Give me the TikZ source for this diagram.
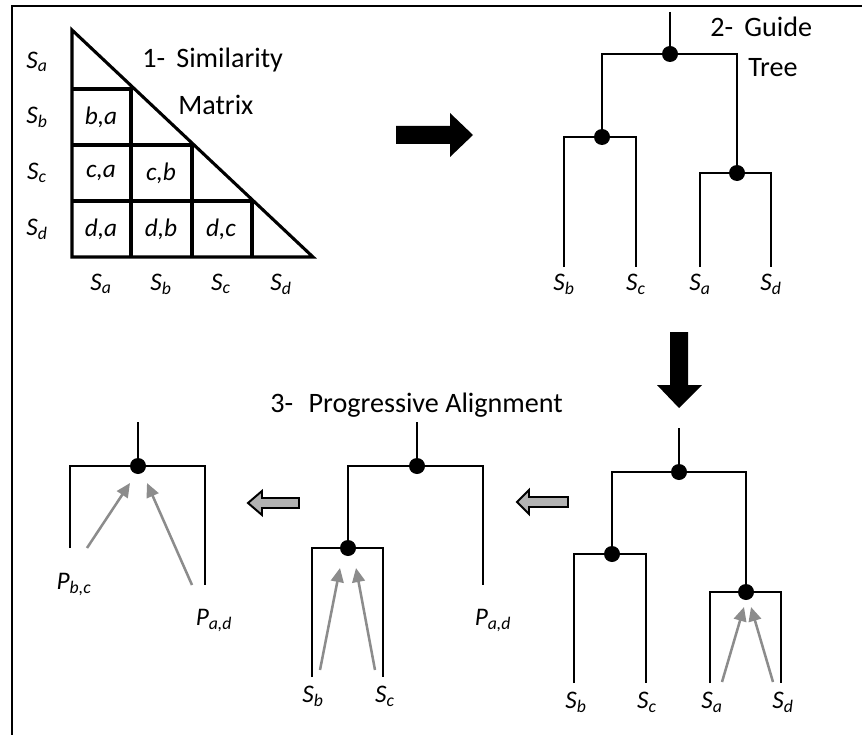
\documentclass[tikz,border=0pt]{standalone}
\usepackage{fontspec}
\setmainfont{Carlito}
\usetikzlibrary{arrows.meta,calc}
\newcommand{\seqS}[1]{\textit{S\textsubscript{#1}}}
\newcommand{\profP}[1]{\textit{P\textsubscript{#1}}}

\begin{document}
\begin{tikzpicture}[x=0.025cm, y=-0.025cm,
    title/.style={font=\fontsize{20}{24}\selectfont, anchor=west, inner sep=0pt},
    cell/.style={font=\fontsize{18}{22}\selectfont\itshape},
    seq/.style={font=\fontsize{18}{22}\selectfont, inner sep=3pt},
    dot/.style={circle, fill=black, inner sep=0pt, minimum size=0.4cm},
    edge/.style={line width=2.1pt},
    leaf/.style={line width=1.5pt},
    garr/.style={-{Triangle[length=10pt,width=9pt]}, line width=1.8pt, black!45},
    hollow/.style={fill=black!30, draw=black, line width=1.4pt}]

    \useasboundingbox (0,0) rectangle (862,735);
    \draw[line width=1.6pt] (12,735) -- (12,6) -- (862,6);

    % 1- similarity matrix
    \draw[line width=2.2pt] (72,30) -- (72,257) -- (313,257) -- cycle;
    \draw[line width=2.2pt] (72,89) -- (131,89) -- (131,257);
    \draw[line width=2.2pt] (72,145) -- (192,145) -- (192,257);
    \draw[line width=2.2pt] (72,201) -- (252,201) -- (252,257);
    \node[cell] (ba) at (101,117) {b,a};
    \node[cell] (ca) at (101,173) {c,a};
    \node[cell] (cb) at (161,173) {c,b};
    \node[cell] (da) at (101,229) {d,a};
    \node[cell] (db) at (161,229) {d,b};
    \node[cell] (dc) at (221,229) {d,c};
    \node[seq] (rowa) at (37,62) {\seqS{a}};
    \node[seq] (rowb) at (37,117) {\seqS{b}};
    \node[seq] (rowc) at (37,173) {\seqS{c}};
    \node[seq] (rowd) at (37,229) {\seqS{d}};
    \node[seq] (cola) at (101,284) {\seqS{a}};
    \node[seq] (colb) at (161,284) {\seqS{b}};
    \node[seq] (colc) at (221,284) {\seqS{c}};
    \node[seq] (cold) at (281,284) {\seqS{d}};
    \node[title] (lbl1) at (142,60) {1-\hspace{0.4em}Similarity};
    \node[title] (lbl1b) at (178,105) {Matrix};

    \fill (396,126) -- (450,126) -- (450,113) -- (473,135) -- (450,157)
        -- (450,144) -- (396,144) -- cycle;

    % 2- guide tree
    \node[title] (lbl2) at (710,27) {2-\hspace{0.4em}Guide};
    \node[title] (lbl2b) at (748,68) {Tree};
    \coordinate (top2) at (670,12);
    \node[dot] (r2) at (670,54) {};
    \node[dot] (l2) at (602,137) {};
    \node[dot] (rr2) at (737,173) {};
    \node[seq, anchor=north] (sb2) at (564,270) {\seqS{b}};
    \node[seq, anchor=north] (sc2) at (636,270) {\seqS{c}};
    \node[seq, anchor=north] (sa2) at (700,270) {\seqS{a}};
    \node[seq, anchor=north] (sd2) at (771,270) {\seqS{d}};
    \draw[leaf] (top2) -- (r2);
    \draw[edge] (l2) |- (r2) -| (rr2);
    \draw[leaf] ($(sb2.north)+(0,-3)$) |- (l2) -| ($(sc2.north)+(0,-3)$);
    \draw[leaf] ($(sa2.north)+(0,-3)$) |- (rr2) -| ($(sd2.north)+(0,-3)$);

    \fill (670,332) -- (688,332) -- (688,385) -- (702,385) -- (679,408)
        -- (657,385) -- (670,385) -- cycle;

    % 3- progressive alignment, first step
    \coordinate (top3) at (679,428);
    \node[dot] (r3) at (679,472) {};
    \node[dot] (l3) at (612,554) {};
    \node[dot] (rr3) at (746,592) {};
    \node[seq, anchor=north] (sb3) at (576,688) {\seqS{b}};
    \node[seq, anchor=north] (sc3) at (647,688) {\seqS{c}};
    \node[seq, anchor=north] (sa3) at (712,688) {\seqS{a}};
    \node[seq, anchor=north] (sd3) at (783,688) {\seqS{d}};
    \draw[leaf] (top3) -- (r3);
    \draw[edge] (l3) |- (r3) -| (rr3);
    \draw[leaf] ($(sb3.north)+(-2,-5)$) |- (l3) -| ($(sc3.north)+(-1,-5)$);
    \draw[leaf] ($(sa3.north)+(-2,-5)$) |- (rr3) -| ($(sd3.north)+(-2,-5)$);
    \draw[garr] ($(sa3.north)+(10,-6)$) -- ($(rr3)+(-2,15)$);
    \draw[garr] ($(sd3.north)+(-10,-6)$) -- ($(rr3)+(5,15)$);

    \draw[hollow] (568,497) -- (529,497) -- (529,490) -- (517,502) -- (529,514)
        -- (529,507) -- (568,507) -- cycle;

    % 3- progressive alignment, second step
    \node[title] (lbl3) at (270,405) {3-\hspace{0.55em}Progressive Alignment};
    \coordinate (topm) at (417,422);
    \node[dot] (rm) at (417,466) {};
    \node[dot] (lm) at (348,548) {};
    \node[seq, anchor=north] (sbm) at (313,682) {\seqS{b}};
    \node[seq, anchor=north] (scm) at (385,682) {\seqS{c}};
    \node[seq, anchor=north] (padm) at (493,605) {\profP{a,d}};
    \draw[leaf] (topm) -- (rm);
    \draw[edge] (lm) |- (rm) -| ($(padm.north)+(-10,-20)$);
    \draw[leaf] ($(sbm.north)+(-1,-5)$) |- (lm) -| ($(scm.north)+(-2,-5)$);
    \draw[garr] ($(sbm.north)+(7,-12)$) -- ($(lm)+(-8,20)$);
    \draw[garr] ($(scm.north)+(-10,-12)$) -- ($(lm)+(8,20)$);

    \draw[hollow] (299,498) -- (262,498) -- (262,491) -- (248,503) -- (262,515)
        -- (262,508) -- (299,508) -- cycle;

    % 3- progressive alignment, last step
    \coordinate (top1) at (138,422);
    \node[dot] (r1) at (138,466) {};
    \node[seq, anchor=north] (pbc) at (74,569) {\profP{b,c}};
    \node[seq, anchor=north] (pad1) at (214,605) {\profP{a,d}};
    \draw[leaf] (top1) -- (r1);
    \draw[leaf] ($(pbc.north)+(-4,-21)$) |- (r1) -| ($(pad1.north)+(-9,-20)$);
    \draw[garr] ($(pbc.north)+(13,-21)$) -- ($(r1)+(-8,17)$);
    \draw[garr] ($(pad1.north)+(-22,-20)$) -- ($(r1)+(9,17)$);
\end{tikzpicture}
\end{document}
